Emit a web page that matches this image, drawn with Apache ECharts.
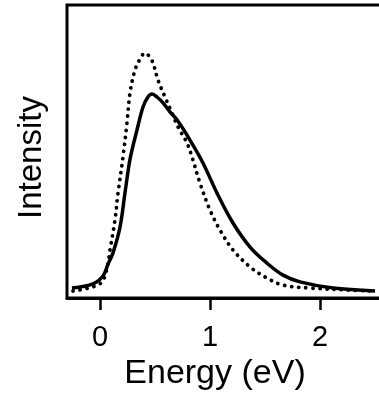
<!DOCTYPE html>
<html>
<head>
<meta charset="utf-8">
<script src="https://cdn.jsdelivr.net/npm/echarts@6/dist/echarts.min.js"></script>
<style>
  html, body { margin: 0; padding: 0; background: #fff; }
  #chart { width: 379px; height: 396px; }
</style>
</head>
<body>
<div id="chart"></div>
<script>
// energy (eV) and intensity (arb.)
const solidX = [-0.255, -0.064, 0.027, 0.073, 0.118, 0.182, 0.227, 0.273, 0.336, 0.391, 0.436, 0.473, 0.518, 0.573, 0.636, 0.7, 0.818, 0.936, 1.064, 1.209, 1.364, 1.518, 1.664, 1.818, 2.118, 2.5];
const solidY = [3.4, 4.8, 7.5, 11.6, 15.4, 24.2, 35.8, 47.4, 57.3, 65.2, 68.6, 69.6, 68.6, 66.6, 63.5, 60.8, 53.9, 46.1, 35.8, 25.6, 17.4, 11.9, 7.8, 5.5, 3.4, 2.4];

const dotX = [-0.245, -0.064, 0.018, 0.064, 0.091, 0.136, 0.164, 0.209, 0.245, 0.273, 0.318, 0.364, 0.409, 0.445, 0.482, 0.527, 0.591, 0.655, 0.709, 0.791, 0.845, 0.909, 1.0, 1.091, 1.209, 1.364, 1.518, 1.664, 1.909, 2.273, 2.5];
const dotY = [2.4, 3.8, 5.5, 10.2, 16.4, 26.6, 35.8, 48.1, 59.7, 70.0, 77.8, 81.6, 83.6, 82.6, 80.2, 74.4, 68.6, 63.1, 58.4, 52.9, 47.1, 39.2, 30.0, 23.2, 16.4, 10.6, 6.8, 4.4, 3.4, 2.7, 2.4];

const xTicks = [0, 1, 2];

const zip = (xs, ys) => xs.map((x, i) => [x, ys[i]]);

const chart = echarts.init(document.getElementById('chart'));

chart.setOption({
    animation: false,
    grid: {
        left: 67,
        top: 5,
        width: 317,
        bottom: 98,
        outerBoundsMode: 'none',
        show: true,
        borderColor: '#000',
        borderWidth: 3
    },
    xAxis: {
        type: 'value',
        min: -0.3,
        max: 2.5818,
        name: 'Energy (eV)',
        nameLocation: 'middle',
        nameGap: 55,
        nameTextStyle: {
            fontFamily: 'Liberation Sans',
            fontSize: 34,
            color: '#000',
            padding: [0, 21, 0, 0]
        },
        axisLine: { lineStyle: { color: '#000', width: 3 } },
        axisTick: {
            show: true,
            customValues: xTicks,
            inside: false,
            length: 12,
            lineStyle: { color: '#000', width: 2.5 }
        },
        axisLabel: {
            customValues: xTicks,
            margin: 25,
            fontFamily: 'Liberation Sans',
            fontSize: 29,
            color: '#000'
        },
        splitLine: { show: false }
    },
    yAxis: {
        type: 'value',
        min: 0,
        max: 100,
        name: 'Intensity',
        nameLocation: 'middle',
        nameGap: 19,
        nameTextStyle: {
            fontFamily: 'Liberation Sans',
            fontSize: 33,
            color: '#000',
            padding: [0, 12, 0, 0]
        },
        axisLine: { show: false },
        axisTick: { show: false },
        axisLabel: { show: false },
        splitLine: { show: false }
    },
    series: [
        {
            name: 'solid',
            type: 'line',
            data: zip(solidX, solidY),
            smooth: 0.35,
            symbol: 'none',
            lineStyle: { color: '#000', width: 3.5 }
        },
        {
            name: 'dotted',
            type: 'line',
            data: zip(dotX, dotY),
            smooth: 0.35,
            symbol: 'none',
            lineStyle: {
                color: '#000',
                width: 3.8,
                type: [0.1, 7],
                cap: 'round'
            }
        }
    ]
});
</script>
</body>
</html>
